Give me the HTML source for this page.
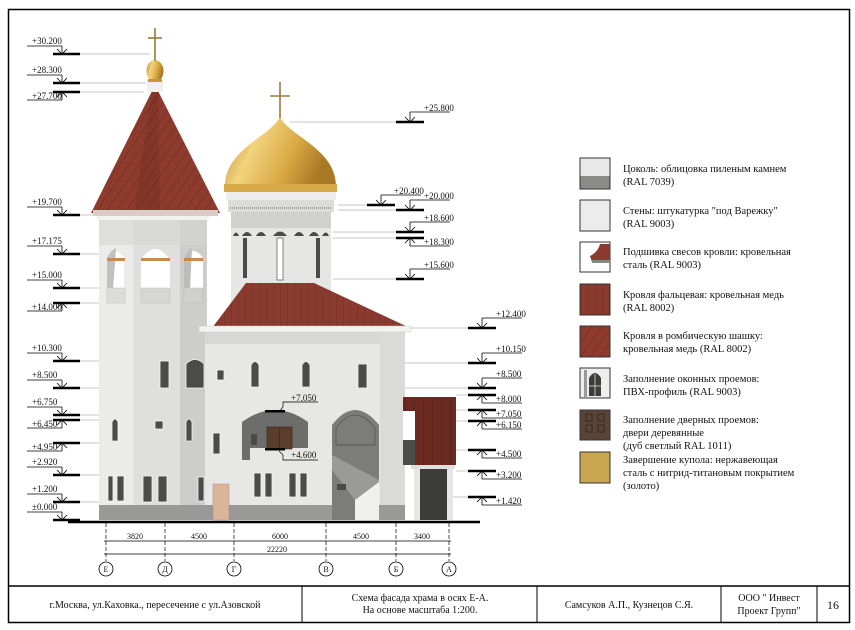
<!DOCTYPE html>
<html><head><meta charset="utf-8"><style>
html,body{margin:0;padding:0;background:#fff;}
svg{display:block;}
text{font-family:"Liberation Serif","DejaVu Serif",serif;fill:#111;}
.e{font-size:9px;}
.lg{font-size:10.5px;}
.tb{font-size:10px;}
</style></head><body>
<svg width="855" height="630" viewBox="0 0 855 630" xmlns="http://www.w3.org/2000/svg">
<defs>
<linearGradient id="gold" x1="0" y1="0" x2="1" y2="0.3">
<stop offset="0" stop-color="#b8862a"/><stop offset="0.35" stop-color="#f2d37e"/><stop offset="0.7" stop-color="#d9a944"/><stop offset="1" stop-color="#a87a25"/></linearGradient>
<pattern id="rh" width="8" height="8" patternUnits="userSpaceOnUse" patternTransform="rotate(35)">
<rect width="8" height="8" fill="#8e3a2d"/><line x1="0" y1="0" x2="0" y2="8" stroke="#6a2a20" stroke-width="1"/></pattern>
<pattern id="fz" width="7" height="10" patternUnits="userSpaceOnUse">
<rect width="7" height="10" fill="#8a3a2e"/><line x1="0" y1="0" x2="0" y2="10" stroke="#6e2c22" stroke-width="0.8"/></pattern>
<pattern id="an" width="9" height="10" patternUnits="userSpaceOnUse">
<rect width="9" height="10" fill="#6b2a21"/><line x1="0" y1="0" x2="0" y2="10" stroke="#4e1d16" stroke-width="1"/></pattern>
<g id="dl"><line x1="27" y1="-8" x2="62" y2="-8" stroke="#000" stroke-width="0.8"/><line x1="62" y1="-8" x2="62" y2="0" stroke="#000" stroke-width="0.8"/><line x1="53" y1="0" x2="80" y2="0" stroke="#000" stroke-width="2.4"/><polyline points="57,-5 62,0 67,-5" fill="none" stroke="#000" stroke-width="0.8"/></g>
<g id="ul"><line x1="53" y1="0" x2="80" y2="0" stroke="#000" stroke-width="2.4"/><line x1="62" y1="0" x2="62" y2="8" stroke="#000" stroke-width="0.8"/><line x1="27" y1="8" x2="62" y2="8" stroke="#000" stroke-width="0.8"/><polyline points="57,5 62,0 67,5" fill="none" stroke="#000" stroke-width="0.8"/></g>
<g id="dr"><line x1="0" y1="0" x2="28" y2="0" stroke="#000" stroke-width="2.4"/><line x1="14" y1="0" x2="14" y2="-10" stroke="#000" stroke-width="0.8"/><line x1="14" y1="-10" x2="54" y2="-10" stroke="#000" stroke-width="0.8"/><polyline points="9,-5 14,0 19,-5" fill="none" stroke="#000" stroke-width="0.8"/></g>
<g id="ur"><line x1="0" y1="0" x2="28" y2="0" stroke="#000" stroke-width="2.4"/><line x1="14" y1="0" x2="14" y2="8" stroke="#000" stroke-width="0.8"/><line x1="14" y1="8" x2="54" y2="8" stroke="#000" stroke-width="0.8"/><polyline points="9,5 14,0 19,5" fill="none" stroke="#000" stroke-width="0.8"/></g>
</defs>

<!-- frame -->
<rect x="8.5" y="9.5" width="841" height="613" fill="none" stroke="#000" stroke-width="1.5"/>
<line x1="8" y1="586" x2="850" y2="586" stroke="#000" stroke-width="1.5"/>
<line x1="302" y1="586" x2="302" y2="622" stroke="#000"/>
<line x1="537" y1="586" x2="537" y2="622" stroke="#000"/>
<line x1="721" y1="586" x2="721" y2="622" stroke="#000"/>
<line x1="817" y1="586" x2="817" y2="622" stroke="#000"/>
<text class="tb" x="155" y="608" text-anchor="middle">г.Москва, ул.Каховка., пересечение с ул.Азовской</text>
<text class="tb" x="420" y="601" text-anchor="middle">Схема фасада храма в осях Е-А.</text>
<text class="tb" x="420" y="613" text-anchor="middle">На основе масштаба 1:200.</text>
<text class="tb" x="629" y="608" text-anchor="middle">Самсуков А.П., Кузнецов С.Я.</text>
<text class="tb" x="769" y="601" text-anchor="middle">ООО " Инвест</text>
<text class="tb" x="769" y="614" text-anchor="middle">Проект Групп"</text>
<text x="833" y="609" text-anchor="middle" style="font-size:12px">16</text>

<!-- gray leader lines -->
<g stroke="#b5b5b5" stroke-width="0.7">
<line x1="80" y1="54" x2="150" y2="54"/><line x1="80" y1="83" x2="146" y2="83"/><line x1="80" y1="92" x2="144" y2="92"/>
<line x1="80" y1="215" x2="99" y2="215"/><line x1="80" y1="254" x2="104" y2="254"/><line x1="80" y1="288" x2="104" y2="288"/><line x1="80" y1="303" x2="104" y2="303"/>
<line x1="80" y1="361" x2="158" y2="361"/><line x1="80" y1="388" x2="158" y2="388"/><line x1="80" y1="415" x2="110" y2="415"/><line x1="80" y1="420" x2="150" y2="420"/><line x1="80" y1="443" x2="100" y2="443"/><line x1="80" y1="475" x2="104" y2="475"/><line x1="80" y1="502" x2="104" y2="502"/>
<line x1="290" y1="122" x2="396" y2="122"/><line x1="338" y1="205" x2="367" y2="205"/><line x1="338" y1="210" x2="396" y2="210"/><line x1="333" y1="232" x2="396" y2="232"/><line x1="333" y1="238" x2="396" y2="238"/><line x1="333" y1="279" x2="396" y2="279"/>
<line x1="410" y1="328" x2="468" y2="328"/><line x1="404" y1="363" x2="468" y2="363"/><line x1="370" y1="388" x2="468" y2="388"/><line x1="456" y1="395" x2="468" y2="395"/><line x1="456" y1="410" x2="468" y2="410"/><line x1="456" y1="421" x2="468" y2="421"/><line x1="456" y1="450" x2="468" y2="450"/><line x1="456" y1="471" x2="468" y2="471"/><line x1="448" y1="497" x2="468" y2="497"/>
</g>

<!-- left elevation markers -->
<use href="#dl" y="54"/><text class="e" x="32" y="44">+30.200</text>
<use href="#dl" y="83"/><text class="e" x="32" y="73">+28.300</text>
<use href="#ul" y="92"/><text class="e" x="32" y="99">+27.700</text>
<use href="#dl" y="215"/><text class="e" x="32" y="205">+19.700</text>
<use href="#dl" y="254"/><text class="e" x="32" y="244">+17.175</text>
<use href="#dl" y="288"/><text class="e" x="32" y="278">+15.000</text>
<use href="#ul" y="303"/><text class="e" x="32" y="310">+14.000</text>
<use href="#dl" y="361"/><text class="e" x="32" y="351">+10.300</text>
<use href="#dl" y="388"/><text class="e" x="32" y="378">+8.500</text>
<use href="#dl" y="415"/><text class="e" x="32" y="405">+6.750</text>
<use href="#ul" y="420"/><text class="e" x="32" y="427">+6.450</text>
<use href="#ul" y="443"/><text class="e" x="32" y="450">+4.950</text>
<use href="#dl" y="475"/><text class="e" x="32" y="465">+2.920</text>
<use href="#dl" y="502"/><text class="e" x="32" y="492">+1.200</text>
<use href="#dl" y="520"/><text class="e" x="32" y="510">±0.000</text>

<!-- right elevation markers -->
<use href="#dr" x="396" y="122"/><text class="e" x="424" y="111">+25.800</text>
<use href="#dr" x="367" y="205"/><text class="e" x="394" y="194">+20.400</text>
<use href="#dr" x="396" y="210"/><text class="e" x="424" y="199">+20.000</text>
<use href="#dr" x="396" y="232"/><text class="e" x="424" y="221">+18.600</text>
<use href="#ur" x="396" y="238"/><text class="e" x="424" y="245">+18.300</text>
<use href="#dr" x="396" y="279"/><text class="e" x="424" y="268">+15.600</text>
<use href="#dr" x="468" y="328"/><text class="e" x="496" y="317">+12.400</text>
<use href="#dr" x="468" y="363"/><text class="e" x="496" y="352">+10.150</text>
<use href="#dr" x="468" y="388"/><text class="e" x="496" y="377">+8.500</text>
<use href="#ur" x="468" y="395"/><text class="e" x="496" y="402">+8.000</text>
<use href="#ur" x="468" y="410"/><text class="e" x="496" y="417">+7.050</text>
<use href="#ur" x="468" y="421"/><text class="e" x="496" y="428">+6.150</text>
<use href="#ur" x="468" y="450"/><text class="e" x="496" y="457">+4.500</text>
<use href="#ur" x="468" y="471"/><text class="e" x="496" y="478">+3.200</text>
<use href="#ur" x="468" y="497"/><text class="e" x="496" y="504">+1.420</text>

<!-- BELL TOWER -->
<rect x="99" y="215" width="108" height="305" fill="#ebebe9"/>
<rect x="133" y="215" width="47" height="305" fill="#dfdfdd"/>
<rect x="180" y="215" width="27" height="305" fill="#cdcdcb"/>
<rect x="99" y="215" width="108" height="30" fill="#d6d6d4" opacity="0.6"/>
<g>
<path d="M107,290 L107,258 Q115,244 124,258 L124,290 Z" fill="#fff"/>
<path d="M107,290 L107,258 Q111,250 116,248 L113,290 Z" fill="#c0c0be"/>
<path d="M141,290 L141,260 Q155,238 170,260 L170,290 Z" fill="#fff"/>
<path d="M184,290 L184,258 Q193,244 203,258 L203,290 Z" fill="#fff"/>
<path d="M184,290 L184,258 Q188,250 192,248 L190,290 Z" fill="#bdbdbb"/>
<rect x="107" y="258" width="18" height="3" fill="#c98a4e"/><rect x="141" y="258" width="29" height="3" fill="#c98a4e"/><rect x="184" y="258" width="19" height="3" fill="#c98a4e"/>
<rect x="107" y="288" width="18" height="15" fill="#dcdcda" stroke="#bbb" stroke-width="0.5"/>
<rect x="141" y="288" width="29" height="15" fill="#d6d6d4" stroke="#bbb" stroke-width="0.5"/>
<rect x="184" y="288" width="19" height="15" fill="#d0d0ce" stroke="#bbb" stroke-width="0.5"/>
</g>
<polygon points="152,91 158,91 220,213 91,213" fill="url(#rh)"/>
<polygon points="152,91 158,91 160,213 134,213" fill="#000" opacity="0.08"/>
<rect x="93" y="210" width="125" height="6" fill="#d8cdc8"/>
<rect x="97" y="216" width="112" height="4" fill="#f2f2f0"/>
<rect x="147" y="80" width="16" height="12" fill="#f0f0ee"/>
<ellipse cx="155" cy="71" rx="8.5" ry="11" fill="url(#gold)"/>
<rect x="148" y="79" width="14" height="3" fill="#c8963a"/>
<line x1="155" y1="28" x2="155" y2="61" stroke="#9a7a3a" stroke-width="1.6"/>
<line x1="148" y1="38" x2="162" y2="38" stroke="#9a7a3a" stroke-width="1.6"/>

<!-- DOME & DRUM -->
<rect x="231" y="212" width="100" height="95" fill="#e6e6e4"/>
<rect x="231" y="212" width="100" height="16" fill="#d0d0ce"/>
<g fill="#4a4a48">
<path d="M233,236 Q236,229 239,236Z"/><path d="M242,236 Q247,228 252,236Z"/><path d="M256,236 Q261,228 266,236Z"/><path d="M273,236 Q280,227 287,236Z"/><path d="M294,236 Q299,228 304,236Z"/><path d="M309,236 Q314,228 319,236Z"/><path d="M322,236 Q326,229 329,236Z"/>
</g>
<rect x="243" y="238" width="4" height="40" fill="#4a4a48"/>
<rect x="277" y="238" width="6" height="42" fill="#fff" stroke="#666" stroke-width="0.8"/>
<rect x="316" y="238" width="4" height="40" fill="#4a4a48"/>
<rect x="226" y="192" width="110" height="8" fill="#ededeb"/>
<rect x="228" y="200" width="106" height="12" fill="#dcdcda"/>
<line x1="230" y1="208" x2="332" y2="208" stroke="#888" stroke-width="1.5" stroke-dasharray="1,1"/>
<path d="M280,116 C286,135 336,148 336,186 L225,186 C225,148 274,135 280,116 Z" fill="url(#gold)"/>
<rect x="224" y="184" width="113" height="8" fill="#d7a848"/>
<line x1="280" y1="82" x2="280" y2="118" stroke="#9a7a3a" stroke-width="1.6"/>
<line x1="270" y1="96" x2="290" y2="96" stroke="#9a7a3a" stroke-width="1.6"/>

<!-- MAIN BODY -->
<rect x="205" y="330" width="200" height="190" fill="#e7e7e5"/>
<rect x="205" y="330" width="200" height="14" fill="#d7d7d5"/>
<rect x="380" y="330" width="25" height="190" fill="#dadad8"/>
<polygon points="212,328 246,283 314,283 410,328" fill="url(#fz)"/>
<rect x="199" y="326" width="212" height="6" fill="#f2f2f0" stroke="#c8c8c6" stroke-width="0.5"/>
<rect x="99" y="505" width="306" height="15" fill="#999997"/>
<path d="M242,460 L242,422 Q275,398 308,422 L308,448 L250,448 L250,460 Z" fill="#6d6d6b"/>
<rect x="267" y="427" width="25" height="22" fill="#5b3d2c" stroke="#3a2418" stroke-width="0.6"/>
<line x1="279.5" y1="428" x2="279.5" y2="449" stroke="#3a2418" stroke-width="0.6"/>
<rect x="251" y="434" width="6" height="11" fill="#4a4a48"/>
<rect x="265" y="410" width="20" height="2.5" fill="#000"/>
<rect x="265" y="448" width="20" height="2.5" fill="#000"/>
<polyline points="279,412 283,407 283,402 318,402" fill="none" stroke="#000" stroke-width="0.7"/>
<polyline points="279,451 283,455 283,460 318,460" fill="none" stroke="#000" stroke-width="0.7"/>
<text class="e" x="291" y="401">+7.050</text>
<text class="e" x="291" y="458">+4.600</text>
<path d="M332,520 L332,425 Q355,395 379,425 L379,520 Z" fill="#7c7c7a"/>
<path d="M336,445 L336,428 Q355,402 375,428 L375,445 Z" fill="none" stroke="#555" stroke-width="0.8"/>
<line x1="336" y1="445" x2="375" y2="445" stroke="#555" stroke-width="0.8"/>
<polygon points="332,455 379,480 379,500 355,500 332,470" fill="#9a9a98"/>
<polygon points="355,520 355,500 379,482 379,520" fill="#f0f0ee"/>
<rect x="337" y="484" width="9" height="6" fill="#4a4a48"/>
<!-- ANNEX -->
<rect x="403" y="397" width="53" height="68" fill="url(#an)"/>
<rect x="403" y="411" width="12" height="38" fill="#fff"/>
<rect x="403" y="440" width="12" height="25" fill="#4c4c4a"/>
<rect x="411" y="465" width="44" height="4" fill="#e0e0de"/>
<rect x="414" y="469" width="6" height="51" fill="#e6e6e4"/>
<rect x="447" y="469" width="6" height="51" fill="#e6e6e4"/>
<rect x="420" y="469" width="27" height="51" fill="#3c3c3a"/>

<g fill="#4b4b49" stroke="#f5f5f3" stroke-width="0.8">
<rect x="160" y="361" width="9" height="27"/>
<path d="M186,388 L186,364 Q195,355 204,364 L204,388 Z"/>
<rect x="155" y="421" width="8" height="8"/>
<path d="M112,441 L112,422 Q115,416 118,422 L118,441 Z"/>
<path d="M186,441 L186,422 Q189,416 192,422 L192,441 Z"/>
<rect x="108" y="476" width="5" height="25"/><rect x="117" y="476" width="7" height="25"/>
<rect x="143" y="476" width="9" height="26"/><rect x="158" y="476" width="9" height="26"/>
<rect x="198" y="477" width="6" height="24"/>
<rect x="217" y="370" width="7" height="10"/>
<path d="M251,387 L251,365 Q255,358 259,365 L259,387 Z"/>
<path d="M302,387 L302,365 Q306,358 310,365 L310,387 Z"/>
<rect x="358" y="364" width="9" height="24"/>
<rect x="213" y="433" width="7" height="21"/>
<rect x="254" y="473" width="7" height="24"/><rect x="265" y="473" width="7" height="24"/>
<rect x="289" y="473" width="7" height="24"/><rect x="300" y="473" width="7" height="24"/>
</g>
<rect x="213" y="484" width="16" height="36" fill="#dcb498" stroke="#a88" stroke-width="0.5"/>

<line x1="68" y1="522" x2="480" y2="522" stroke="#000" stroke-width="2.5"/>
<g stroke="#000" stroke-width="0.7">
<line x1="106" y1="523" x2="106" y2="561" stroke-dasharray="4,2"/>
<line x1="165" y1="523" x2="165" y2="561" stroke-dasharray="4,2"/>
<line x1="234" y1="523" x2="234" y2="561" stroke-dasharray="4,2"/>
<line x1="326" y1="523" x2="326" y2="561" stroke-dasharray="4,2"/>
<line x1="396" y1="523" x2="396" y2="561" stroke-dasharray="4,2"/>
<line x1="449" y1="523" x2="449" y2="561" stroke-dasharray="4,2"/>
<line x1="104" y1="541" x2="451" y2="541"/>
<line x1="104" y1="554" x2="451" y2="554"/>
</g>
<g fill="none" stroke="#000" stroke-width="0.8">
<circle cx="106" cy="569" r="7"/><circle cx="165" cy="569" r="7"/><circle cx="234" cy="569" r="7"/><circle cx="326" cy="569" r="7"/><circle cx="396" cy="569" r="7"/><circle cx="449" cy="569" r="7"/>
</g>
<g class="e" text-anchor="middle" style="font-size:8px">
<text x="135" y="539">3820</text><text x="199" y="539">4500</text><text x="280" y="539">6000</text><text x="361" y="539">4500</text><text x="422" y="539">3400</text>
<text x="277" y="552">22220</text>
<text x="106" y="572">Е</text><text x="165" y="572">Д</text><text x="234" y="572">Г</text><text x="326" y="572">В</text><text x="396" y="572">Б</text><text x="449" y="572">А</text>
</g>

<!-- LEGEND -->
<g stroke="#333" stroke-width="1">
<rect x="580" y="158" width="30" height="31" fill="#e8e8e8"/>
<rect x="580" y="176" width="30" height="13" fill="#8a8a88" stroke="none"/>
<rect x="580" y="158" width="30" height="31" fill="none"/>
<rect x="580" y="200" width="30" height="31" fill="#ececec"/>
<rect x="580" y="242" width="30" height="30" fill="#fff"/>
<rect x="580" y="284" width="30" height="31" fill="url(#fz)"/>
<rect x="580" y="326" width="30" height="31" fill="url(#rh)"/>
<rect x="580" y="368" width="30" height="30" fill="#eee"/>
<rect x="580" y="410" width="30" height="30" fill="#5a4438"/>
<rect x="580" y="452" width="30" height="31" fill="#c9a552"/>
</g>
<path d="M590,256 Q598,252 600,244 L610,244 L610,262 L592,262 Z" fill="#8a3a2e"/>
<rect x="592" y="260" width="18" height="3" fill="#888"/>
<path d="M589,396 L589,378 Q595,368 601,378 L601,396 Z" fill="#3c3c3a"/>
<line x1="589" y1="386" x2="601" y2="386" stroke="#ddd" stroke-width="0.8"/><line x1="595" y1="374" x2="595" y2="396" stroke="#ddd" stroke-width="0.8"/>
<rect x="584" y="370" width="3" height="28" fill="#999"/>
<g fill="none" stroke="#2e2018" stroke-width="0.8"><rect x="586" y="414" width="6" height="7"/><rect x="598" y="414" width="6" height="7"/><rect x="586" y="425" width="6" height="7"/><rect x="598" y="425" width="6" height="7"/></g>
<g class="lg">
<text x="623" y="172">Цоколь: облицовка пиленым камнем</text><text x="623" y="185">(RAL 7039)</text>
<text x="623" y="214">Стены: штукатурка "под Варежку"</text><text x="623" y="227">(RAL 9003)</text>
<text x="623" y="255">Подшивка свесов кровли: кровельная</text><text x="623" y="268">сталь (RAL 9003)</text>
<text x="623" y="298">Кровля фальцевая: кровельная медь</text><text x="623" y="311">(RAL 8002)</text>
<text x="623" y="339">Кровля в ромбическую шашку:</text><text x="623" y="352">кровельная медь (RAL 8002)</text>
<text x="623" y="382">Заполнение оконных проемов:</text><text x="623" y="395">ПВХ-профиль (RAL 9003)</text>
<text x="623" y="423">Заполнение дверных проемов:</text><text x="623" y="436">двери деревянные</text><text x="623" y="449">(дуб светлый RAL 1011)</text>
<text x="623" y="463">Завершение купола: нержавеющая</text><text x="623" y="476">сталь с нитрид-титановым покрытием</text><text x="623" y="489">(золото)</text>
</g>
</svg>
</body></html>
